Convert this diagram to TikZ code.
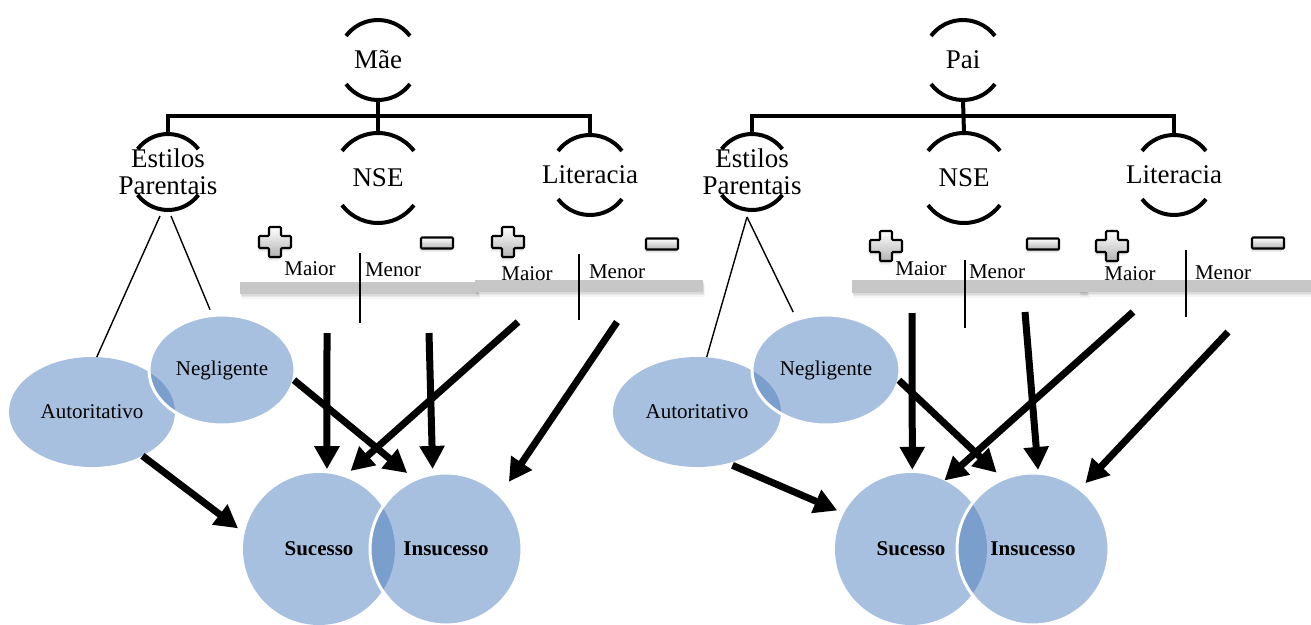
\documentclass[tikz,border=0pt]{standalone}
\usepackage{fontspec}
\setmainfont{Liberation Serif}
\usepackage{tikz}
\usetikzlibrary{arrows.meta,calc,positioning,shapes.geometric,shadows}

\definecolor{bubblefill}{HTML}{A8C0DF}
\definecolor{bubbledark}{HTML}{7B9FCC}
\colorlet{barfill}{black!22}

% two arcs round a label, and the points where the tree meets them
\newcommand\brackets[2]{%
  \draw[brk] (#1.center) ++(37:#2) arc[start angle=37,end angle=143,radius=#2];
  \draw[brk] (#1.center) ++(217:#2) arc[start angle=217,end angle=323,radius=#2];
  \coordinate (#1-top) at ($(#1.center)+(0,#2)$);
  \coordinate (#1-bot) at ($(#1.center)+(0,-#2)$);
}

\begin{document}
\begin{tikzpicture}[
    x=1pt, y=1pt,
    %styles
    lbl/.style={font=\fontsize{27}{27}\selectfont, align=center, inner sep=0pt},
    smalltext/.style={font=\fontsize{21}{21}\selectfont, inner sep=0pt},
    brk/.style={line width=4pt},
    tree/.style={line width=4pt},
    bubble/.style={ellipse, fill=bubblefill, inner sep=0pt, smalltext},
    outcome/.style={circle, fill=bubblefill, inner sep=0pt, minimum size=152pt,
      font=\fontsize{21}{21}\selectfont\bfseries},
    whitegap/.style={white, line width=3pt},
    thin link/.style={line width=1.4pt},
    divider/.style={line width=1.4pt},
    scalebar/.style={fill=barfill,
      drop shadow={shadow xshift=0.5pt, shadow yshift=-1.5pt, opacity=0.12},
      drop shadow={shadow xshift=1pt, shadow yshift=-3pt, opacity=0.12},
      drop shadow={shadow xshift=1.5pt, shadow yshift=-4.5pt, opacity=0.08}},
    big arrow/.style={line width=7pt, -{Triangle[length=23pt,width=24pt]}},
    icon/.style={draw=black, line width=2.1pt, top color=white, bottom color=black!30,
      rounded corners=1pt,
      drop shadow={shadow xshift=-1pt, shadow yshift=-2pt, opacity=0.18},
      drop shadow={shadow xshift=-1.5pt, shadow yshift=-3.5pt, opacity=0.12}},
    plussign/.pic={\path[icon] (-6,15) -- (6,15) -- (6,6) -- (16,6) -- (16,-6) -- (6,-6)
      -- (6,-15) -- (-6,-15) -- (-6,-6) -- (-16,-6) -- (-16,6) -- (-6,6) -- cycle;},
    minussign/.pic={\path[icon] (-16,-5.5) rectangle (16,5.5);},
  ]
  \useasboundingbox (0,0) rectangle (1311,-624);

  %%% Mae
  \node[lbl] (mae) at (378,-60) {Mãe};
  \node[lbl] (mEst) at (168,-172) {Estilos\\Parentais};
  \node[lbl] (mNse) at (378,-178) {NSE};
  \node[lbl] (mLit) at (590,-175) {Literacia};
  \brackets{mae}{40}
  \brackets{mEst}{38}
  \brackets{mNse}{45}
  \brackets{mLit}{40}
  \draw[tree] (mEst-top) |- ($(mae-bot)+(0,-16)$) -| (mLit-top);
  \draw[tree] (mae-bot) -- (mNse-top);

  \path[scalebar] (240,-282) rectangle (478,-294);
  \path[scalebar] (475,-280) rectangle (703,-292);
  \draw[divider] (360,-253) -- (360,-323);
  \draw[divider] (579,-254) -- (579,-320);
  \node[smalltext, anchor=base] (mHiA) at (310,-275) {Maior};
  \node[smalltext, anchor=base] (mLoA) at (393,-276) {Menor};
  \node[smalltext, anchor=base] (mHiB) at (527,-280) {Maior};
  \node[smalltext, anchor=base] (mLoB) at (617,-278) {Menor};
  \pic at (275,-242) {plussign};
  \pic at (437,-243) {minussign};
  \pic at (508,-242) {plussign};
  \pic at (662,-244) {minussign};

  \node[bubble, minimum width=166pt, minimum height=110pt] (mAut) at (92,-412) {Autoritativo};
  \node[bubble, minimum width=146pt, minimum height=110pt] (mNeg) at (222,-370) {Negligente};
  \begin{scope}
    \clip (mAut.center) ellipse [x radius=83, y radius=55];
    \fill[bubbledark] (mNeg.center) ellipse [x radius=73, y radius=55];
  \end{scope}
  \draw[whitegap] (mNeg.center) ellipse [x radius=73, y radius=55];
  \draw[thin link] ($(mEst-bot)+(-8,-6)$) -- (mAut.85);
  \draw[thin link, shorten >=6pt] ($(mEst-bot)+(3,-6)$) -- (mNeg.100);

  \node[outcome] (mSuc) at (319,-549) {Sucesso};
  \node[outcome] (mIns) at (446,-549) {Insucesso};
  \begin{scope}
    \clip (mSuc.center) circle [radius=76];
    \fill[bubbledark] (mIns.center) circle [radius=76];
  \end{scope}
  \draw[whitegap] (mIns.center) circle [radius=76];

  \coordinate (mNseHi) at (327,-333);
  \coordinate (mNseLo) at (429,-333);
  \coordinate (mLitHi) at (518,-322);
  \coordinate (mLitLo) at (617,-322);
  \draw[big arrow, shorten >=8pt] (mAut.-41) -- (mSuc.168);
  \draw[big arrow, shorten >=4pt] (mNseHi) -- (mSuc.84);
  \draw[big arrow, shorten >=5pt] (mNseLo) -- (mIns.100);
  \draw[big arrow, shorten >=10pt] (mNeg.-8) -- (mIns.114);
  \draw[big arrow, shorten >=9pt] (mLitHi) -- (mSuc.71);
  \draw[big arrow, shorten >=16pt] (mLitLo) -- (mIns.45);

  %%% Pai
  \node[lbl] (pai) at (963,-60) {Pai};
  \node[lbl] (pEst) at (752,-172) {Estilos\\Parentais};
  \node[lbl] (pNse) at (964,-178) {NSE};
  \node[lbl] (pLit) at (1174,-175) {Literacia};
  \brackets{pai}{40}
  \brackets{pEst}{38}
  \brackets{pNse}{45}
  \brackets{pLit}{40}
  \draw[tree] (pEst-top) |- ($(pai-bot)+(0,-16)$) -| (pLit-top);
  \draw[tree] (pai-bot) -- (pNse-top);

  \path[scalebar] (852,-280) rectangle (1087,-293);
  \path[scalebar] (1079,-280) rectangle (1311,-292);
  \draw[divider] (965,-260) -- (965,-328);
  \draw[divider] (1186,-250) -- (1186,-317);
  \node[smalltext, anchor=base] (pHiA) at (921,-275) {Maior};
  \node[smalltext, anchor=base] (pLoA) at (997,-278) {Menor};
  \node[smalltext, anchor=base] (pHiB) at (1130,-280) {Maior};
  \node[smalltext, anchor=base] (pLoB) at (1223,-279) {Menor};
  \pic at (886,-246) {plussign};
  \pic at (1043,-244) {minussign};
  \pic at (1112,-246) {plussign};
  \pic at (1268,-243) {minussign};

  \node[bubble, minimum width=168pt, minimum height=110pt] (pAut) at (697,-412) {Autoritativo};
  \node[bubble, minimum width=148pt, minimum height=110pt] (pNeg) at (826,-370) {Negligente};
  \begin{scope}
    \clip (pAut.center) ellipse [x radius=84, y radius=55];
    \fill[bubbledark] (pNeg.center) ellipse [x radius=74, y radius=55];
  \end{scope}
  \draw[whitegap] (pNeg.center) ellipse [x radius=74, y radius=55];
  \draw[thin link] ($(pEst-bot)+(-5,-7)$) -- (pAut.80);
  \draw[thin link, shorten >=8pt] ($(pEst-bot)+(-5,-7)$) -- (pNeg.120);

  \node[outcome] (pSuc) at (911,-549) {Sucesso};
  \node[outcome] (pIns) at (1033,-549) {Insucesso};
  \begin{scope}
    \clip (pSuc.center) circle [radius=76];
    \fill[bubbledark] (pIns.center) circle [radius=76];
  \end{scope}
  \draw[whitegap] (pIns.center) circle [radius=76];

  \coordinate (pNseHi) at (912,-313);
  \coordinate (pNseLo) at (1025,-312);
  \coordinate (pLitHi) at (1133,-312);
  \coordinate (pLitLo) at (1228,-332);
  \draw[big arrow, shorten >=7pt, shorten <=5pt] (pAut.-59) -- (pSuc.152);
  \draw[big arrow, shorten >=3pt] (pNseHi) -- (pSuc.89);
  \draw[big arrow, shorten >=3pt] (pNseLo) -- (pIns.86);
  \draw[big arrow, shorten >=9pt] (pNeg.-8) -- (pIns.113);
  \draw[big arrow] (pLitHi) -- (pSuc.64);
  \draw[big arrow, shorten >=8pt] (pLitLo) -- (pIns.52);
\end{tikzpicture}
\end{document}
